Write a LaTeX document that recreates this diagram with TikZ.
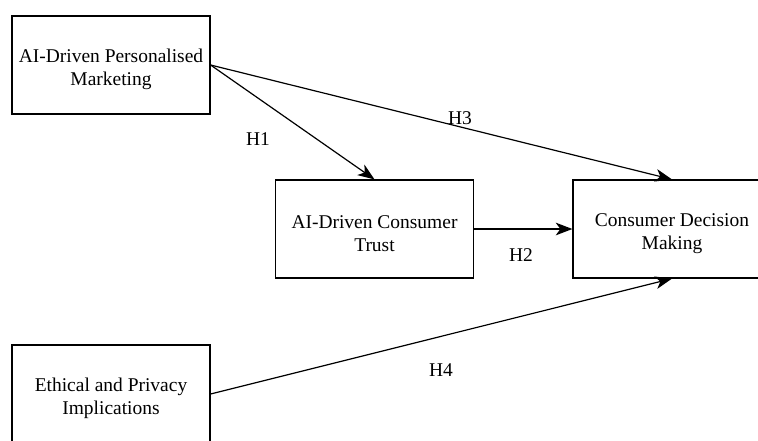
\documentclass[tikz,border=0pt]{standalone}
\usepackage{fontspec}
\setmainfont{Liberation Serif}
\usepackage{tikz}
\usetikzlibrary{
  positioning,
  arrows.meta
}

\begin{document}
\begin{tikzpicture}[x=0.75pt, y=-0.75pt,
    box/.style={draw, line width=0.9pt, minimum width=148.5pt, minimum height=73.5pt,
                align=center, font=\fontsize{14.6}{17.5}\selectfont, inner sep=0pt},
    hyp/.style={font=\fontsize{14.6}{16.5}\selectfont, inner sep=0pt},
    pfeil/.style={-{Stealth[length=12.5pt, width=9.5pt, inset=3.5pt]}, line width=0.9pt}]
    \def\st{\rule{0pt}{16.5pt}}
    % Rahmen
    \useasboundingbox (0,0) rectangle (758,440);
    \clip (0,0) rectangle (758,440);

    % Konstrukte
    \node[box] (pm)    at (111,65)  {\st AI-Driven Personalised\\Marketing};
    \node[box] (trust) at (374.5,229) {\st AI-Driven Consumer\\Trust};
    \node[box] (dm)    at (672,229) {\st Consumer Decision\\Making};
    \node[box] (eth)   at (111,394) {\st Ethical and Privacy\\Implications};

    % Hypothesen
    \draw[pfeil] (pm.east) -- (trust.north);
    \draw[pfeil] (pm.east) -- (dm.north);
    \draw[pfeil] (trust.east) -- (dm.west);
    \draw[pfeil] (eth.east) -- (dm.south);

    \node[hyp] (h1) at (258,139) {H1};
    \node[hyp] (h3) at (460,118) {H3};
    \node[hyp] (h2) at (521,255) {H2};
    \node[hyp] (h4) at (441,370) {H4};
\end{tikzpicture}
\end{document}
